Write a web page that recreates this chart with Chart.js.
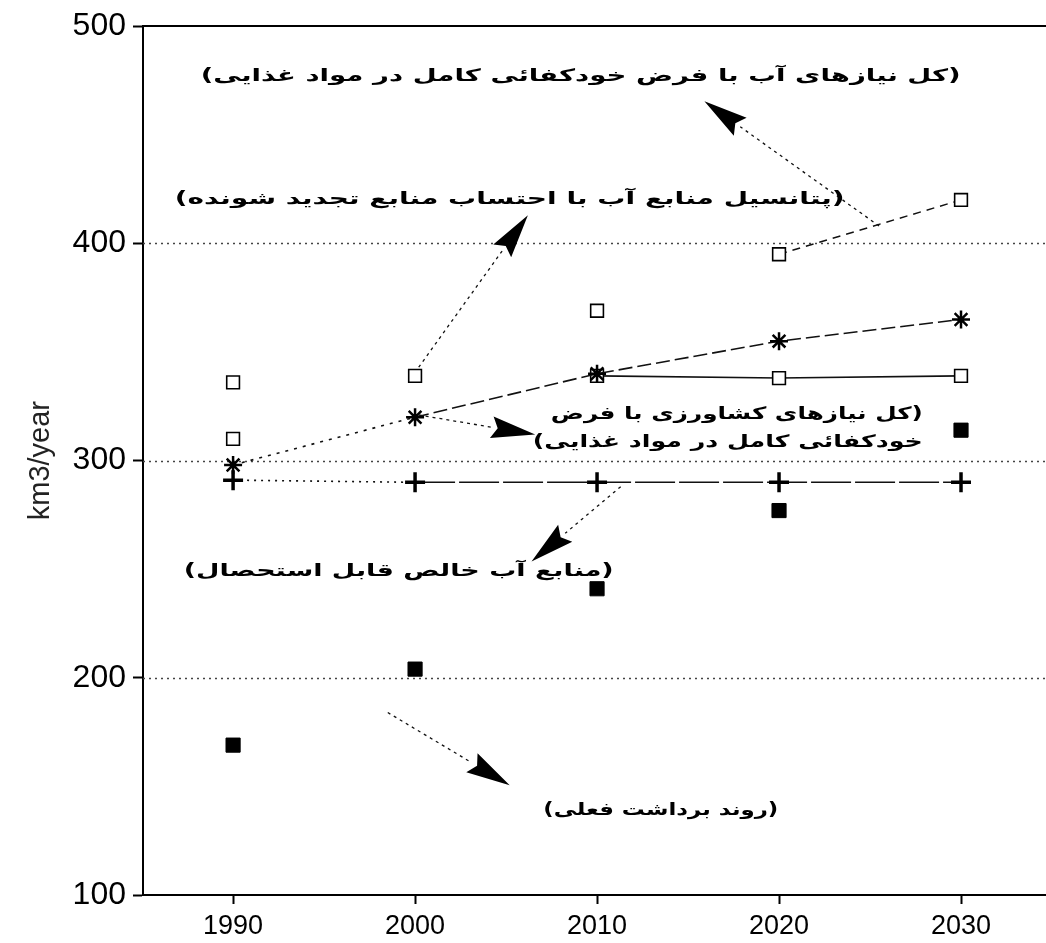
<!DOCTYPE html>
<html>
<head>
<meta charset="utf-8">
<script src="https://cdn.jsdelivr.net/npm/chart.js@4/dist/chart.umd.min.js"></script>
<style>
  html, body { margin: 0; padding: 0; background: #fff; }
  #wrap { width: 1046px; height: 943px; position: relative; }
</style>
</head>
<body>
<div id="wrap"><canvas id="c" width="1046" height="943"></canvas></div>
<script>
// ---- data ----
const years = [1990, 2000, 2010, 2020, 2030];
const yTicks = [100, 200, 300, 400, 500];
const withdrawal = [169, 204, 241, 277, 314];     // روند برداشت فعلی (filled squares)
const netExploitable = [291, 290, 290, 290, 290]; // منابع آب خالص قابل استحصال (plus)
const agriNeeds = [298, 320, 340, 355, 365];      // کل نیازهای کشاورزی ... (asterisk)
const potential = [336, 339, 339, 338, 339];      // پتانسیل منابع آب ... (open squares)
const totalNeeds = [310, null, 369, 395, 420];    // کل نیازهای آب ... (open squares, upper)

const label1 = '(کل نیازهای آب با فرض خودکفائی کامل در مواد غذایی)';
const label2 = '(پتانسیل منابع آب با احتساب منابع تجدید شونده)';
const label3a = '(کل نیازهای کشاورزی با فرض';
const label3b = 'خودکفائی کامل در مواد غذایی)';
const label4 = '(منابع آب خالص قابل استحصال)';
const label5 = '(روند برداشت فعلی)';
const yTitle = 'km3/year';

const pts = arr => years.map((x, i) => ({ x: x, y: arr[i] }));

// ---- annotation plugin (positions in data units, converted by the scales) ----
const annotPlugin = {
  id: 'annot',
  beforeDatasetsDraw(chart) {
    const { ctx, chartArea: a, scales: { y } } = chart;
    ctx.save();
    ctx.strokeStyle = '#444';
    ctx.lineWidth = 1.3;
    ctx.setLineDash([2, 4]);
    [200, 300, 400].forEach(v => {
      const py = Math.round(y.getPixelForValue(v)) + 0.5;
      ctx.beginPath(); ctx.moveTo(a.left, py); ctx.lineTo(a.right, py); ctx.stroke();
    });
    ctx.setLineDash([]);
    ctx.strokeStyle = '#000';
    ctx.lineWidth = 2;
    const pt = Math.round(y.getPixelForValue(500));
    ctx.beginPath(); ctx.moveTo(a.left, pt); ctx.lineTo(a.right, pt); ctx.stroke();
    ctx.restore();
  },
  afterDatasetsDraw(chart, args, opts) {
    const { ctx, scales: { x, y } } = chart;
    ctx.save();
    (opts.arrows || []).forEach(ar => {
      const x0 = x.getPixelForValue(ar.from[0]), y0 = y.getPixelForValue(ar.from[1]);
      const x1 = x.getPixelForValue(ar.to[0]), y1 = y.getPixelForValue(ar.to[1]);
      const ang = Math.atan2(y1 - y0, x1 - x0);
      const L = 44, W = 11;
      const bx = x1 - L * Math.cos(ang), by = y1 - L * Math.sin(ang);
      ctx.strokeStyle = '#111';
      ctx.lineWidth = 1.3;
      ctx.setLineDash([3, 4]);
      ctx.beginPath(); ctx.moveTo(x0, y0); ctx.lineTo(bx, by); ctx.stroke();
      ctx.setLineDash([]);
      ctx.fillStyle = '#000';
      ctx.beginPath();
      ctx.moveTo(x1, y1);
      ctx.lineTo(bx + W * Math.sin(ang), by - W * Math.cos(ang));
      ctx.lineTo(bx + 6 * Math.cos(ang), by + 6 * Math.sin(ang));
      ctx.lineTo(bx - W * Math.sin(ang), by + W * Math.cos(ang));
      ctx.closePath(); ctx.fill();
    });
    ctx.fillStyle = '#000';
    ctx.textBaseline = 'middle';
    (opts.labels || []).forEach(lb => {
      ctx.font = 'bold 17px "DejaVu Sans"';
      ctx.direction = 'rtl';
      const px = x.getPixelForValue(lb.x), py = y.getPixelForValue(lb.y);
      const w = ctx.measureText(lb.text).width;
      const sx = lb.width / w;
      ctx.save();
      const left = lb.align === 'right' ? px - lb.width : px - lb.width / 2;
      ctx.translate(left, py);
      ctx.scale(sx, 1);
      ctx.direction = 'rtl';
      ctx.textAlign = 'right';
      ctx.fillText(lb.text, w, 0);
      ctx.restore();
    });
    ctx.restore();
  }
};

const segHide = (fromIdx) => ({
  borderColor: c => (c.p0DataIndex < fromIdx ? 'rgba(0,0,0,0)' : '#111')
});

new Chart(document.getElementById('c'), {
  type: 'line',
  data: {
    datasets: [
      {
        label: 'withdrawal', data: pts(withdrawal), showLine: false,
        pointStyle: 'rect', pointRadius: 10, pointBackgroundColor: '#000',
        pointBorderColor: '#000', pointBorderWidth: 1
      },
      {
        label: 'net', data: pts(netExploitable), borderColor: '#111', borderWidth: 1.6,
        pointStyle: 'cross', pointRadius: 10, pointBorderColor: '#000', pointBorderWidth: 3.5,
        segment: { borderDash: c => (c.p0DataIndex === 0 ? [2, 5] : [40, 4]) }
      },
      {
        label: 'agri', data: pts(agriNeeds), borderColor: '#111', borderWidth: 1.6,
        segment: { borderDash: c => (c.p0DataIndex === 0 ? [3, 6] : [14, 5]) },
        pointStyle: 'star', pointRadius: 9, pointBorderColor: '#000', pointBorderWidth: 2.5
      },
      {
        label: 'potential', data: pts(potential), borderColor: '#111', borderWidth: 1.6,
        segment: segHide(2),
        pointStyle: 'rect', pointRadius: 9, pointBackgroundColor: '#fff',
        pointBorderColor: '#000', pointBorderWidth: 1.6
      },
      {
        label: 'total', data: pts(totalNeeds), borderColor: '#111', borderWidth: 1.4,
        borderDash: [8, 6], spanGaps: false,
        segment: segHide(3),
        pointStyle: 'rect', pointRadius: 9, pointBackgroundColor: '#fff',
        pointBorderColor: '#000', pointBorderWidth: 1.6
      }
    ]
  },
  options: {
    responsive: false,
    animation: false,
    devicePixelRatio: 1,
    layout: { autoPadding: false, padding: { top: 22, right: 0, left: 0, bottom: 0 } },
    plugins: {
      legend: { display: false },
      tooltip: { enabled: false },
      annot: {
        labels: [
          { text: label1, x: 2009.1, y: 477, width: 760 },
          { text: label2, x: 2005.2, y: 420, width: 670 },
          { text: label3a, x: 2027.9, y: 321, width: 372, align: 'right' },
          { text: label3b, x: 2027.9, y: 308.5, width: 390, align: 'right' },
          { text: label4, x: 1999.1, y: 249, width: 430 },
          { text: label5, x: 2013.5, y: 139, width: 235 }
        ],
        arrows: [
          { from: [2025.5, 408], to: [2015.9, 465.5] },
          { from: [2000.2, 343], to: [2006.2, 413] },
          { from: [2000.2, 321], to: [2006.6, 312] },
          { from: [2011.3, 288], to: [2006.4, 253.5] },
          { from: [1998.5, 184], to: [2005.2, 150.5] }
        ]
      }
    },
    scales: {
      x: {
        type: 'linear', min: 1985.05, max: 2034.67,
        afterBuildTicks: s => { s.ticks = years.map(v => ({ value: v })); },
        afterFit: s => { s.height = 48; s.paddingRight = 0; s.paddingLeft = 0; },
        grid: { drawOnChartArea: false, drawTicks: true, tickLength: 9, tickColor: '#000', tickWidth: 2 },
        border: { display: true, color: '#000', width: 2 },
        ticks: {
          color: '#000', padding: 6, maxRotation: 0, autoSkip: false,
          font: { family: '"Liberation Sans", Arial, sans-serif', size: 27 },
          callback: v => String(v)
        }
      },
      y: {
        type: 'linear', min: 100, max: 500,
        afterBuildTicks: s => { s.ticks = yTicks.map(v => ({ value: v })); },
        afterFit: s => { s.width = 143; },
        grid: { drawOnChartArea: false, drawTicks: true, tickLength: 10, tickColor: '#000', tickWidth: 2 },
        border: { display: true, color: '#000', width: 2 },
        ticks: {
          color: '#000', padding: 7, autoSkip: false,
          font: { family: '"Liberation Sans", Arial, sans-serif', size: 32 },
          callback: v => String(v)
        },
        title: {
          display: true, text: yTitle, color: '#222',
          font: { family: '"Liberation Sans", Arial, sans-serif', size: 29 },
          padding: { top: 24, bottom: 0 }
        }
      }
    }
  },
  plugins: [annotPlugin]
});
</script>
</body>
</html>
